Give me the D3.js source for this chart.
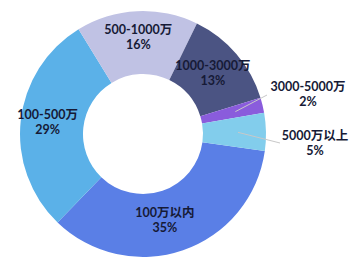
<!DOCTYPE html>
<html>
<head>
<meta charset="utf-8">
<script src="https://cdn.jsdelivr.net/npm/d3@7"></script>
<style>
body{margin:0;background:#fff;}
svg text{font-family:Lato,"Noto Sans CJK SC",sans-serif;font-weight:bold;font-size:12.5px;fill:#161a36;}
</style>
</head>
<body>
<div class="container"></div>
<script>
var categories = ["100万以内","100-500万","500-1000万","1000-3000万","3000-5000万","5000万以上"];
var values = [35,29,16,13,2,5];
var pctLabels = ["35%","29%","16%","13%","2%","5%"];
var color = ["#5a7fe6","#5bb1e8","#c0c2e4","#4b5483","#8a5cdc","#82cdec"];

var width = 353, height = 266;
var cx = 143, cy = 134, outerR = 123, innerR = 60;
// label radius per slice
var labelR = [92,96,96,92,95,95];

var svg = d3.select('.container').append('svg')
	.attr("width", width)
	.attr("height", height);

var g = svg.append('g').attr("transform","translate("+cx+","+cy+")");

var startA = 98*Math.PI/180;
var pie = d3.pie().sort(null).value(function(d){return d;})
	.startAngle(startA).endAngle(startA+2*Math.PI);
var arcs = pie(values);

var arc = d3.arc().innerRadius(innerR).outerRadius(outerR);

g.selectAll('path')
	.data(arcs).enter()
	.append('path')
	.attr("d", arc)
	.style("fill", function(d,i){return color[i];});

// small slices get outside labels with leader lines
var outside = {4:[165,-39], 5:[172,10]};
var lineEnd = {4:[124,-39], 5:[137,9]};

arcs.forEach(function(d,i){
	var pos = d3.arc().innerRadius(labelR[i]).outerRadius(labelR[i]).centroid(d);
	if(i==0) pos[0] -= 8;
	if(outside[i]){
		g.append('line')
			.attr("x1", pos[0]).attr("y1", pos[1])
			.attr("x2", lineEnd[i][0]).attr("y2", lineEnd[i][1])
			.style("stroke","#c8c8c8").style("stroke-width",1);
		pos = outside[i];
	}
	g.append('text')
		.attr("text-anchor","middle")
		.attr("dominant-baseline","middle")
		.attr("x",pos[0]).attr("y",pos[1]-7.5)
		.text(categories[i]);
	g.append('text')
		.attr("text-anchor","middle")
		.attr("dominant-baseline","middle")
		.attr("x",pos[0]).attr("y",pos[1]+7.5)
		.text(pctLabels[i]);
});
</script>
</body>
</html>
